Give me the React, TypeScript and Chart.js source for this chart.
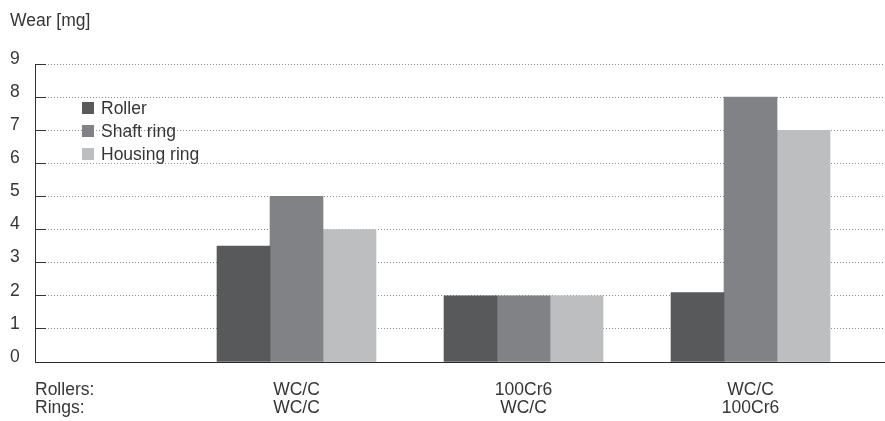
import React, { useEffect, useRef } from 'react';
import { Chart, registerables } from 'chart.js';

Chart.register(...registerables);

// ---- data ----
const seriesNames = ['Roller', 'Shaft ring', 'Housing ring'];
const rollerWear = [3.5, 2, 2.1];
const shaftRingWear = [5, 2, 8];
const housingRingWear = [4, 2, 7];
const groupX = [1, 2, 3];
const rollerMaterials = ['Rollers:', 'WC/C', '100Cr6', 'WC/C'];
const ringMaterials = ['Rings:', 'WC/C', 'WC/C', '100Cr6'];
const yAxisTitle = 'Wear [mg]';

// ---- styles ----
const seriesColors = ['#58595b', '#808285', '#bcbec0'];
const textColor = '#363636';
const fontFamily = '"Liberation Sans", Arial, Helvetica, sans-serif';
const fontSize = 17.5;
const X_MIN = -0.152;
const X_MAX = 3.588;

export default function App() {
  const ref = useRef<HTMLCanvasElement>(null);

  useEffect(() => {
    if (!ref.current) return;
    const seriesValues = [rollerWear, shaftRingWear, housingRingWear];
    const font = { family: fontFamily, size: fontSize, weight: 'normal' as const };
    const chart = new Chart(ref.current, {
      type: 'bar',
      data: {
        datasets: seriesNames.map((name, i) => ({
          label: name,
          data: groupX.map((x, j) => ({ x, y: seriesValues[i][j] })),
          backgroundColor: seriesColors[i],
          borderWidth: 0,
          barThickness: 53,
        })),
      },
      options: {
        responsive: false,
        animation: false,
        layout: { padding: { left: 10, right: 1, top: 0, bottom: 0 } },
        plugins: {
          legend: { display: false },
          tooltip: { enabled: false },
          title: {
            display: true,
            text: yAxisTitle,
            align: 'start',
            color: textColor,
            font: { ...font, lineHeight: 1.2 },
            padding: { top: 11, bottom: 32 },
          },
        },
        scales: {
          x: {
            type: 'linear',
            offset: false,
            min: X_MIN,
            max: X_MAX,
            afterBuildTicks: (s: any) => {
              s.ticks = [X_MIN, ...groupX, X_MAX].map((v) => ({ value: v }));
            },
            afterFit: (s: any) => {
              s.height = 59;
              s.paddingLeft = 0;
              s.paddingRight = 0;
            },
            grid: { display: false, drawTicks: false, offset: false },
            border: { display: true, color: '#2a2a2a', width: 1 },
            ticks: {
              align: 'inner',
              autoSkip: false,
              maxRotation: 0,
              minRotation: 0,
              padding: 19,
              color: textColor,
              font: { ...font, lineHeight: 18 / fontSize },
              callback: (_v: any, i: number) =>
                i < rollerMaterials.length ? [rollerMaterials[i], ringMaterials[i]] : '',
            },
          },
          y: {
            min: 0,
            max: 9,
            afterFit: (s: any) => {
              s.width = 25;
            },
            ticks: {
              stepSize: 1,
              color: textColor,
              font,
              crossAlign: 'far',
              labelOffset: -5,
              padding: 0,
            },
            grid: {
              color: (ctx: any) => (ctx.tick && ctx.tick.value === 0 ? 'rgba(0,0,0,0)' : '#8e8e8e'),
              lineWidth: 1,
              drawTicks: true,
              tickLength: -11,
              tickColor: '#333333',
              tickWidth: 1,
            },
            border: { display: true, color: '#333333', width: 1, dash: [1, 2] },
          },
        },
      } as any,
    });
    return () => chart.destroy();
  }, []);

  return (
    <div style={{ position: 'absolute', left: 0, top: 0, width: 885, height: 421, background: '#fff' }}>
      <canvas ref={ref} width={885} height={421} style={{ display: 'block', width: 885, height: 421 }} />
      <div
        style={{
          position: 'absolute',
          left: 82,
          top: 96.5,
          fontFamily,
          fontSize,
          color: textColor,
        }}
      >
        {seriesNames.map((name, i) => (
          <div key={name} style={{ display: 'flex', alignItems: 'center', height: 23, lineHeight: '23px' }}>
            <span style={{ display: 'inline-block', width: 12, height: 12, background: seriesColors[i], marginRight: 7 }} />
            <span>{name}</span>
          </div>
        ))}
      </div>
    </div>
  );
}
